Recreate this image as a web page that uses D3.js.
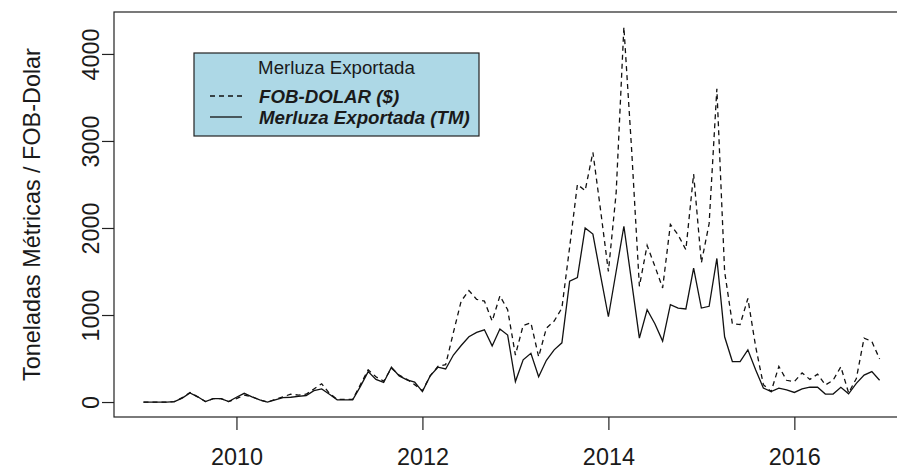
<!DOCTYPE html>
<html>
<head>
<meta charset="utf-8">
<script src="https://cdn.jsdelivr.net/npm/d3@7"></script>
<style>
  body { margin: 0; background: #fff; }
  text { font-family: "Liberation Sans", Arial, sans-serif; fill: #1a1a1a; }
</style>
</head>
<body>
<svg></svg>
<script>
// monthly series, Jan 2009 .. Dec 2016
const startYear = 2009;
const fobDolar = [
  0, 0, 0, 0, 5, 50, 110, 60, 5, 40, 40, 5,
  40, 80, 60, 25, 0, 30, 60, 90, 80, 90, 150, 210,
  100, 30, 30, 30, 200, 370, 290, 240, 390, 310, 260, 200,
  130, 300, 410, 430, 800, 1160, 1280, 1180, 1160, 930, 1220, 1060,
  540, 880, 910, 520, 850, 930, 1080, 1780, 2500, 2430, 2870, 2200,
  1500, 2400, 4310, 2900, 1330, 1800, 1560, 1310, 2040, 1920, 1750, 2620,
  1600, 2050, 3600, 1500, 900, 890, 1190, 640, 200, 120, 410, 250,
  235, 335, 260, 320, 196, 250, 405, 105, 270, 735, 696, 495
];
const merluzaTM = [
  0, 0, 0, 0, 5, 45, 105, 60, 5, 40, 40, 5,
  55, 100, 60, 25, 0, 25, 50, 55, 65, 75, 130, 150,
  90, 25, 25, 25, 180, 350, 260, 225, 400, 300, 255, 230,
  120, 300, 400, 380, 540, 650, 750, 800, 830, 645, 840, 770,
  235, 485, 560, 290, 480, 600, 680, 1390, 1430, 2000, 1930, 1450,
  980, 1500, 2020, 1380, 735, 1060, 900, 700, 1120, 1080, 1070, 1540,
  1080, 1100, 1650, 750, 465, 465, 600, 370, 160, 120, 160, 140,
  110, 150, 170, 170, 92, 92, 170, 95, 215, 310, 350, 250
];
const xTicks = [2010, 2012, 2014, 2016];
const yTicks = [0, 1000, 2000, 3000, 4000];
const legendTitle = 'Merluza Exportada';
const legendLabels = ['FOB-DOLAR ($)', 'Merluza Exportada (TM)'];
const yTitle = 'Toneladas Métricas / FOB-Dolar';

const width = 897, height = 466;
const margin = {top: 12, right: -12, bottom: 49, left: 114};
const innerWidth = width - margin.left - margin.right;
const innerHeight = height - margin.top - margin.bottom;
const axisFont = 23.4, legendFont = 18.7;

const svg = d3.select('svg').attr('width', width).attr('height', height);
const g = svg.append('g').attr('transform', `translate(${margin.left},${margin.top})`);

const t = i => startYear + i / 12;
const x = d3.scaleLinear().domain([2008.683, 2017.233]).range([0, innerWidth]);
const y = d3.scaleLinear().domain([-172, 4482]).range([innerHeight, 0]);

// box
g.append('rect')
  .attr('width', innerWidth).attr('height', innerHeight)
  .attr('fill', 'none').attr('stroke', '#222').attr('stroke-width', 1.2);

const line = d3.line().x((d, i) => x(t(i))).y(d => y(d));

g.append('path').datum(fobDolar)
  .attr('d', line).attr('fill', 'none')
  .attr('stroke', '#111').attr('stroke-width', 1.3)
  .attr('stroke-dasharray', '5,4');

g.append('path').datum(merluzaTM)
  .attr('d', line).attr('fill', 'none')
  .attr('stroke', '#111').attr('stroke-width', 1.3);

// axes
const yAxisG = g.append('g')
  .call(d3.axisLeft(y).tickValues(yTicks).tickSize(12).tickSizeOuter(0).tickFormat(d3.format('d')));
yAxisG.select('.domain').remove();
yAxisG.selectAll('line').attr('stroke', '#222').attr('stroke-width', 1.2);
yAxisG.selectAll('text')
  .attr('transform', 'rotate(-90)')
  .attr('x', 0).attr('y', -15).attr('dy', 0)
  .attr('text-anchor', 'middle')
  .attr('font-size', axisFont).attr('fill', '#1a1a1a');

const xAxisG = g.append('g')
  .attr('transform', `translate(0,${innerHeight})`)
  .call(d3.axisBottom(x).tickValues(xTicks).tickSize(13).tickSizeOuter(0).tickFormat(d3.format('d')));
xAxisG.select('.domain').remove();
xAxisG.selectAll('line').attr('stroke', '#222').attr('stroke-width', 1.2);
xAxisG.selectAll('text')
  .attr('y', 47.5).attr('dy', 0)
  .attr('font-size', axisFont).attr('fill', '#1a1a1a');

svg.append('text')
  .attr('transform', `translate(40,${margin.top + innerHeight / 2}) rotate(-90)`)
  .attr('text-anchor', 'middle')
  .attr('font-size', axisFont)
  .text(yTitle);

// legend
const lg = svg.append('g').attr('transform', 'translate(194,53)');
lg.append('rect')
  .attr('width', 285).attr('height', 83)
  .attr('fill', '#add8e6').attr('stroke', '#222').attr('stroke-width', 1.2);
lg.append('text')
  .attr('x', 142.5).attr('y', 21)
  .attr('text-anchor', 'middle').attr('font-size', legendFont)
  .text(legendTitle);
const items = lg.selectAll('.item').data(legendLabels).enter().append('g')
  .attr('transform', (d, i) => `translate(0,${43 + i * 21})`);
items.append('line')
  .attr('x1', 16).attr('x2', 48)
  .attr('stroke', '#111').attr('stroke-width', 1.3)
  .attr('stroke-dasharray', (d, i) => i === 0 ? '5,4' : null);
items.append('text')
  .attr('x', 65).attr('dy', '0.35em')
  .attr('font-size', legendFont).attr('font-weight', 'bold').attr('font-style', 'italic')
  .text(d => d);
</script>
</body>
</html>
